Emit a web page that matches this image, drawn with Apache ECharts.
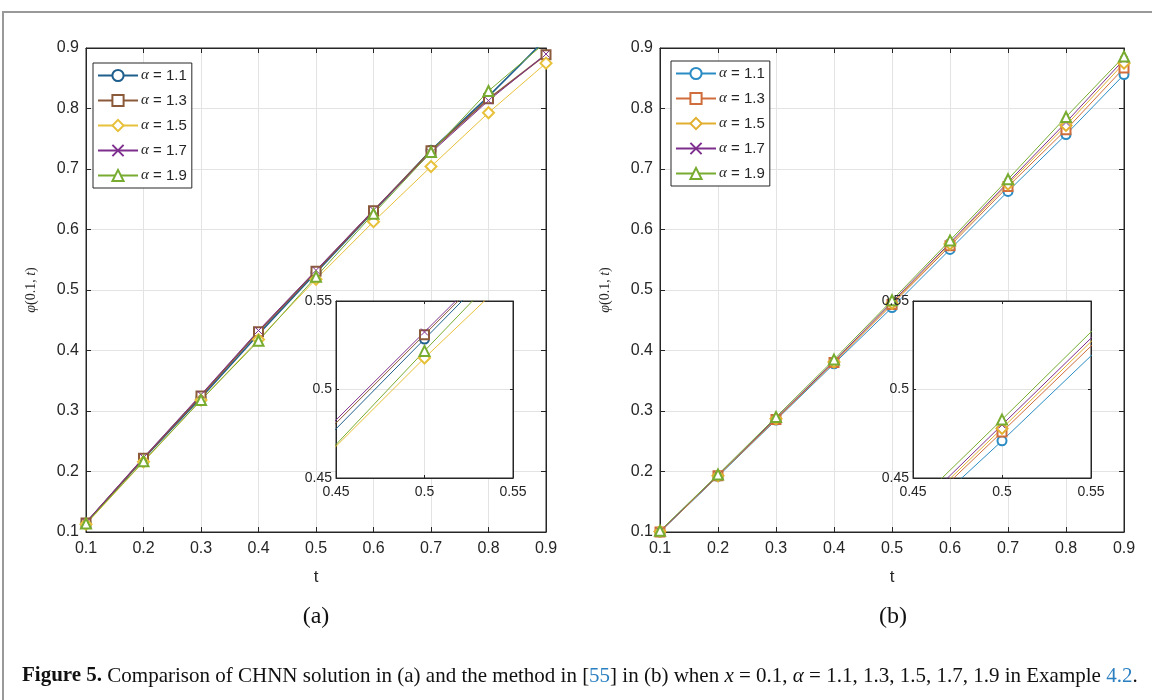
<!DOCTYPE html>
<html>
<head>
<meta charset="utf-8">
<script src="https://cdn.jsdelivr.net/npm/echarts@6/dist/echarts.min.js"></script>
<style>html,body{margin:0;padding:0;background:#fff;}#c{width:1152px;height:700px;}</style>
</head>
<body>
<div id="c"></div>
<script>
const T = [0.1, 0.2, 0.3, 0.4, 0.5, 0.6, 0.7, 0.8, 0.9];
const MAIN_TICKS = ['0.1','0.2','0.3','0.4','0.5','0.6','0.7','0.8','0.9'];
const INSET_TICKS = ['0.45','0.5','0.55'];
const ALPHAS = ['1.1', '1.3', '1.5', '1.7', '1.9'];
// (a) CHNN solution
const A11 = [0.115, 0.221, 0.322, 0.427, 0.5285, 0.630, 0.731, 0.820, 0.915];
const A13 = [0.115, 0.222, 0.325, 0.431, 0.531, 0.631, 0.730, 0.816, 0.889];
const A15 = [0.113, 0.216, 0.318, 0.418, 0.5178, 0.613, 0.704, 0.793, 0.875];
const A17 = [0.116, 0.223, 0.327, 0.433, 0.5325, 0.632, 0.727, 0.813, 0.890];
const A19 = [0.114, 0.217, 0.318, 0.416, 0.5218, 0.626, 0.728, 0.829, 0.910];
// (b) method in [55]
const B11 = [0.100, 0.192, 0.285, 0.378, 0.471, 0.567, 0.663, 0.757, 0.856];
const B13 = [0.100, 0.193, 0.286, 0.380, 0.476, 0.573, 0.671, 0.765, 0.867];
const B15 = [0.101, 0.193, 0.287, 0.381, 0.478, 0.576, 0.675, 0.772, 0.875];
const B17 = [0.101, 0.194, 0.288, 0.382, 0.480, 0.578, 0.678, 0.777, 0.881];
const B19 = [0.102, 0.195, 0.290, 0.385, 0.483, 0.582, 0.683, 0.786, 0.886];

const SERIES_A = [A11, A13, A15, A17, A19];
const SERIES_B = [B11, B13, B15, B17, B19];
const COLORS_A = ['#1f5f8e', '#8b5a3a', '#e8c13a', '#7e2f8e', '#77ac30'];
const COLORS_B = ['#2b8cc4', '#cf6e3c', '#e2b030', '#7e2f8e', '#77ac30'];
const WIDTHS_A = [1.6, 1.6, 1, 1, 1];
const SYMBOLS = ['emptyCircle', 'emptyRect', 'emptyDiamond', 'path://M0 0L10 10M10 0L0 10', 'emptyTriangle'];
const SYMSIZE = [9, 9, 11, 7, 10];

const AX = '#262626';
const SANS = "'Liberation Sans Narrow', 'Liberation Sans', Arial, sans-serif";
const SERIF = "'Liberation Serif', 'DejaVu Serif', serif";

const grids = [
  {left: 86, top: 48, width: 460, height: 484, show: true, borderColor: AX, borderWidth: 1, backgroundColor: '#fff', z: 0},
  {left: 660, top: 48, width: 464, height: 484, show: true, borderColor: AX, borderWidth: 1, backgroundColor: '#fff', z: 0},
  {left: 336, top: 301, width: 177, height: 177, show: true, borderColor: AX, borderWidth: 1, backgroundColor: '#fff', z: 10},
  {left: 913, top: 301, width: 178, height: 177, show: true, borderColor: AX, borderWidth: 1, backgroundColor: '#fff', z: 10}
];

const xAxes = [], yAxes = [];
function addAxes(gi, min, max, interval, fs, isMain, zz) {
  const lab = {color: AX, fontFamily: SANS, fontSize: fs, margin: isMain ? 9 : 7};
  const tick = {show: true, inside: true, length: isMain ? 5 : 3, lineStyle: {color: AX}};
  const split = {show: true, lineStyle: {color: '#e3e3e3', width: 1}};
  xAxes.push({type: 'value', gridIndex: gi, min: min, max: max, interval: interval, position: 'bottom', z: zz,
    axisLine: {show: true, onZero: false, lineStyle: {color: AX}}, axisTick: tick, axisLabel: lab, splitLine: split,
    name: isMain ? 't' : '', nameLocation: 'middle', nameGap: 37, nameTextStyle: {fontFamily: SANS, fontSize: 17, color: AX}});
  xAxes.push({type: 'value', gridIndex: gi, min: min, max: max, interval: interval, position: 'top', z: zz,
    axisLine: {show: true, onZero: false, lineStyle: {color: AX}}, axisTick: tick, axisLabel: {show: false}, splitLine: {show: false}});
  yAxes.push({type: 'value', gridIndex: gi, min: min, max: max, interval: interval, position: 'left', z: zz,
    axisLine: {show: true, onZero: false, lineStyle: {color: AX}}, axisTick: tick, axisLabel: Object.assign({}, lab, {margin: isMain ? 7 : 4}), splitLine: split,
    name: isMain ? '{i|φ}(0.1, {i|t})' : '', nameLocation: 'middle', nameGap: 48, nameRotate: 90,
    nameTextStyle: {fontFamily: SERIF, fontSize: 14, color: AX, rich: {i: {fontFamily: SERIF, fontStyle: 'italic', fontSize: 14, color: AX}}}});
  yAxes.push({type: 'value', gridIndex: gi, min: min, max: max, interval: interval, position: 'right', z: zz,
    axisLine: {show: true, onZero: false, lineStyle: {color: AX}}, axisTick: tick, axisLabel: {show: false}, splitLine: {show: false}});
}
addAxes(0, 0.1, 0.9, 0.1, 16, true, 1);
addAxes(1, 0.1, 0.9, 0.1, 16, true, 1);
addAxes(2, 0.45, 0.55, 0.05, 14, false, 11);
addAxes(3, 0.45, 0.55, 0.05, 14, false, 11);

const series = [];
function addSeries(prefix, vals, colors, widths, axisIdx, zz) {
  vals.forEach(function (v, i) {
    series.push({
      type: 'line',
      name: prefix + ALPHAS[i],
      xAxisIndex: axisIdx * 2, yAxisIndex: axisIdx * 2,
      data: T.map(function (t, k) { return [t, v[k]]; }),
      symbol: SYMBOLS[i], symbolSize: SYMSIZE[i], showAllSymbol: true,
      lineStyle: {color: colors[i], width: widths ? widths[i] : 1},
      itemStyle: {color: colors[i], borderColor: colors[i], borderWidth: 1},
      emphasis: {disabled: true}, animation: false, clip: true, z: zz
    });
  });
}
addSeries('a', SERIES_A, COLORS_A, WIDTHS_A, 0, 2);
addSeries('b', SERIES_B, COLORS_B, null, 1, 2);
addSeries('ia', SERIES_A, COLORS_A, null, 2, 12);
addSeries('ib', SERIES_B, COLORS_B, null, 3, 12);

function legendCfg(prefix, left, top) {
  return {
    data: ALPHAS.map(function (a) { return prefix + a; }),
    left: left, top: top, orient: 'vertical', itemWidth: 40, itemHeight: 14, itemGap: 10,
    padding: [5, 5, 5, 4], borderColor: AX, borderWidth: 1, backgroundColor: '#fff', selectedMode: false, z: 30,
    formatter: function (n) { return '{a|α} = ' + n.slice(1); },
    textStyle: {fontFamily: SANS, fontSize: 15, color: AX, padding: [0, 0, 0, -2],
      rich: {a: {fontFamily: SERIF, fontStyle: 'italic', fontSize: 15, color: AX}}}
  };
}

const option = {
  backgroundColor: '#fff',
  animation: false,
  grid: grids,
  xAxis: xAxes,
  yAxis: yAxes,
  legend: [legendCfg('a', 93, 63), legendCfg('b', 671, 61)],
  series: series,
  graphic: [
    {type: 'rect', shape: {x: 3, y: 12, width: 1200, height: 760}, style: {fill: 'none', stroke: '#999', lineWidth: 2}, silent: true, z: -1},
    {type: 'text', x: 316, y: 617, style: {text: '(a)', fontFamily: SERIF, fontSize: 24, fill: '#111', align: 'center', verticalAlign: 'middle'}},
    {type: 'text', x: 893, y: 617, style: {text: '(b)', fontFamily: SERIF, fontSize: 24, fill: '#111', align: 'center', verticalAlign: 'middle'}},
    {type: 'text', x: 22, y: 676, style: {
      text: '{b|Figure 5.} Comparison of CHNN solution in (a) and the method in [{l|55}] in (b) when {i|x} = 0.1, {i|α} = 1.1, 1.3, 1.5, 1.7, 1.9 in Example {l|4.2}.',
      fontFamily: SERIF, fontSize: 21, fill: '#111', verticalAlign: 'middle',
      rich: {
        b: {fontFamily: SERIF, fontWeight: 'bold', fontSize: 21, fill: '#111'},
        l: {fontFamily: SERIF, fontSize: 21, fill: '#2a7fc0'},
        i: {fontFamily: SERIF, fontStyle: 'italic', fontSize: 21, fill: '#111'}
      }
    }}
  ]
};
const chart = echarts.init(document.getElementById('c'), null, {renderer: 'canvas'});
chart.setOption(option);
</script>
</body>
</html>
